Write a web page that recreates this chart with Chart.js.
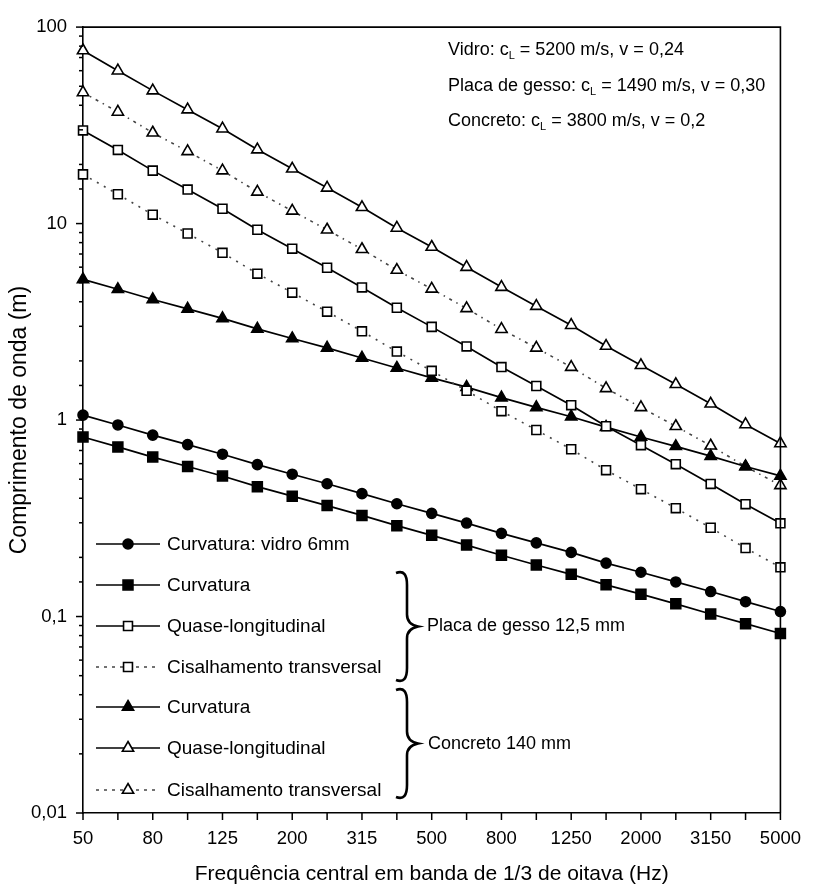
<!DOCTYPE html>
<html>
<head>
<meta charset="utf-8">
<script src="https://cdn.jsdelivr.net/npm/chart.js@4.4.1/dist/chart.umd.min.js"></script>
<style>
html,body{margin:0;padding:0;background:#fff;}
canvas{display:block;}
</style>
</head>
<body>
<canvas id="c" width="816" height="887"></canvas>
<script>
// Frequency bands (1/3 octave)
const bands = ['50','63','80','100','125','160','200','250','315','400','500','630','800','1000','1250','1600','2000','2500','3150','4000','5000'];
// Wavelengths (m)
const glassBending   = [1.06,0.944,0.838,0.75,0.67,0.593,0.53,0.474,0.422,0.375,0.335,0.299,0.265,0.237,0.212,0.187,0.168,0.15,0.134,0.119,0.106];
const gypsumBending  = [0.82,0.73,0.648,0.58,0.519,0.458,0.41,0.367,0.327,0.29,0.259,0.231,0.205,0.183,0.164,0.145,0.13,0.116,0.103,0.092,0.082];
const gypsumQL       = [29.8,23.7,18.6,14.9,11.9,9.3,7.45,5.96,4.73,3.73,2.98,2.37,1.86,1.49,1.19,0.93,0.745,0.596,0.473,0.373,0.298];
const gypsumShear    = [17.8,14.1,11.1,8.9,7.1,5.56,4.45,3.56,2.83,2.23,1.78,1.41,1.11,0.89,0.71,0.556,0.445,0.356,0.283,0.223,0.178];
const concreteBending= [5.2,4.63,4.11,3.68,3.29,2.91,2.6,2.33,2.07,1.84,1.64,1.47,1.30,1.16,1.04,0.92,0.82,0.735,0.655,0.58,0.52];
const concreteQL     = [76,60,47.5,38,30.4,23.8,19,15.2,12.1,9.5,7.6,6.0,4.75,3.8,3.04,2.38,1.9,1.52,1.21,0.95,0.76];
const concreteShear  = [46.5,37,29,23.3,18.6,14.5,11.6,9.3,7.4,5.8,4.65,3.7,2.9,2.33,1.86,1.45,1.16,0.93,0.74,0.58,0.465];
const yTickLabels = {'100':'100','10':'10','1':'1','0.1':'0,1','0.01':'0,01'};

const FONT = '"Liberation Sans", Arial, Helvetica, sans-serif';

const styles = [
  {label:'Curvatura: vidro 6mm', data:glassBending, pointStyle:'circle', r:5, fill:'#000', dash:[]},
  {label:'Curvatura', data:gypsumBending, pointStyle:'rect', r:7, fill:'#000', dash:[]},
  {label:'Quase-longitudinal', data:gypsumQL, pointStyle:'rect', r:6.3, fill:'#fff', dash:[]},
  {label:'Cisalhamento transversal', data:gypsumShear, pointStyle:'rect', r:6.3, fill:'#fff', dash:[2,6], lc:'#444'},
  {label:'Curvatura', data:concreteBending, pointStyle:'triangle', r:6.5, fill:'#000', dash:[]},
  {label:'Quase-longitudinal', data:concreteQL, pointStyle:'triangle', r:6.5, fill:'#fff', dash:[]},
  {label:'Cisalhamento transversal', data:concreteShear, pointStyle:'triangle', r:6.5, fill:'#fff', dash:[3,5,1.5,5], lc:'#444'}
];

const datasets = styles.map(s => ({
  label: s.label,
  data: s.data,
  borderColor: s.lc || '#000',
  borderWidth: s.dash.length ? 1.6 : 1.7,
  borderDash: s.dash,
  pointStyle: s.pointStyle,
  pointRadius: s.r,
  pointBackgroundColor: s.fill,
  pointBorderColor: '#000',
  pointBorderWidth: 1.6,
  tension: 0,
  fill: false,
  clip: false
}));

function drawBrace(ctx, x, y1, y2, tipX) {
  const ym = (y1 + y2) / 2;
  ctx.beginPath();
  ctx.moveTo(x - 11, y1 + 2);
  ctx.bezierCurveTo(x - 3, y1 - 1, x, y1 + 4, x, y1 + 14);
  ctx.lineTo(x, ym - 12);
  ctx.bezierCurveTo(x, ym - 4, tipX - 5, ym - 1, tipX, ym);
  ctx.bezierCurveTo(tipX - 5, ym + 1, x, ym + 4, x, ym + 12);
  ctx.lineTo(x, y2 - 14);
  ctx.bezierCurveTo(x, y2 - 4, x - 3, y2 + 1, x - 11, y2 - 2);
  ctx.stroke();
}

function textWithSub(ctx, x, y, parts) {
  let cx = x;
  parts.forEach(p => {
    if (p[1]) {
      ctx.font = '11px ' + FONT;
      ctx.fillText(p[0], cx, y + 6);
    } else {
      ctx.font = '18px ' + FONT;
      ctx.fillText(p[0], cx, y);
    }
    cx += ctx.measureText(p[0]).width;
  });
}

const decor = {
  id: 'decor',
  afterDraw(chart) {
    const ctx = chart.ctx;
    const a = chart.chartArea;
    const xs = chart.scales.x, ys = chart.scales.y;
    ctx.save();
    ctx.strokeStyle = '#000';
    ctx.fillStyle = '#000';
    ctx.lineWidth = 1.6;
    ctx.setLineDash([]);
    // frame top & right
    ctx.beginPath();
    ctx.moveTo(a.left, a.top); ctx.lineTo(a.right, a.top); ctx.lineTo(a.right, a.bottom);
    ctx.stroke();
    // x ticks
    ctx.lineWidth = 1.5;
    for (let i = 0; i < bands.length; i++) {
      const px = xs.getPixelForValue(i);
      ctx.beginPath(); ctx.moveTo(px, a.bottom); ctx.lineTo(px, a.bottom + 7); ctx.stroke();
    }
    // y ticks
    ys.ticks.forEach(t => {
      const py = ys.getPixelForValue(t.value);
      const lg = Math.log10(t.value);
      const major = Math.abs(lg - Math.round(lg)) < 1e-6;
      ctx.beginPath(); ctx.moveTo(a.left, py); ctx.lineTo(a.left - (major ? 7 : 4), py); ctx.stroke();
    });

    // legend
    const rows = [544, 585, 626, 667, 707, 748, 790];
    styles.forEach((s, i) => {
      const y = rows[i];
      ctx.strokeStyle = s.lc || '#000';
      ctx.lineWidth = 1.7;
      ctx.setLineDash(s.dash.length ? [3, 5] : []);
      ctx.beginPath(); ctx.moveTo(96, y); ctx.lineTo(160, y); ctx.stroke();
      ctx.setLineDash([]);
      ctx.strokeStyle = '#000';
      ctx.fillStyle = s.fill;
      ctx.lineWidth = 1.6;
      Chart.helpers.drawPoint(ctx, {pointStyle: s.pointStyle, radius: s.r, rotation: 0, borderWidth: 1.6}, 128, y);
      ctx.fillStyle = '#000';
      ctx.font = '19px ' + FONT;
      ctx.textBaseline = 'middle';
      ctx.textAlign = 'left';
      ctx.fillText(s.label, 167, y + 1);
    });

    // braces
    ctx.strokeStyle = '#000';
    ctx.lineWidth = 2.6;
    drawBrace(ctx, 407, 571, 682, 418);
    drawBrace(ctx, 407, 688, 799, 418);
    ctx.fillStyle = '#000';
    ctx.font = '18px ' + FONT;
    ctx.textBaseline = 'middle';
    ctx.fillText('Placa de gesso 12,5 mm', 427, 626);
    ctx.fillText('Concreto 140 mm', 428, 744);

    // material properties
    ctx.textBaseline = 'middle';
    textWithSub(ctx, 448, 50, [['Vidro: c', false], ['L', true], [' = 5200 m/s, v = 0,24', false]]);
    textWithSub(ctx, 448, 86, [['Placa de gesso: c', false], ['L', true], [' = 1490 m/s, v = 0,30', false]]);
    textWithSub(ctx, 448, 121, [['Concreto: c', false], ['L', true], [' = 3800 m/s, v = 0,2', false]]);
    ctx.restore();
  }
};

new Chart(document.getElementById('c'), {
  type: 'line',
  data: { labels: bands, datasets: datasets },
  options: {
    responsive: false,
    animation: false,
    devicePixelRatio: 1,
    layout: { padding: { top: 19, right: 24, left: 0, bottom: 0 } },
    plugins: { legend: { display: false }, tooltip: { enabled: false } },
    scales: {
      x: {
        type: 'category',
        offset: false,
        grid: { display: false, drawTicks: false },
        border: { display: true, color: '#000', width: 1.6 },
        ticks: {
          autoSkip: false, maxRotation: 0, padding: 15, color: '#000',
          font: { family: FONT, size: 18.5 },
          callback: (v, i) => (i % 2 === 0 ? bands[i] : '')
        },
        title: {
          display: true, text: 'Frequência central em banda de 1/3 de oitava (Hz)',
          color: '#000', font: { family: FONT, size: 21 }, padding: { top: 0, bottom: 0 }
        },
        afterFit: s => { s.height = 74; }
      },
      y: {
        type: 'logarithmic',
        min: 0.01, max: 100,
        grid: { display: false, drawTicks: false },
        border: { display: true, color: '#000', width: 1.6 },
        ticks: {
          padding: 16, color: '#000', autoSkip: false,
          font: { family: FONT, size: 18.5 },
          callback: v => {
            const key = String(+v.toPrecision(6));
            return yTickLabels[key] !== undefined ? yTickLabels[key] : '';
          }
        },
        title: {
          display: true, text: 'Comprimento de onda (m)',
          color: '#000', font: { family: FONT, size: 23 }, padding: { top: 6, bottom: 0 }
        },
        afterFit: s => { s.width = 83; }
      }
    }
  },
  plugins: [decor]
});
</script>
</body>
</html>
